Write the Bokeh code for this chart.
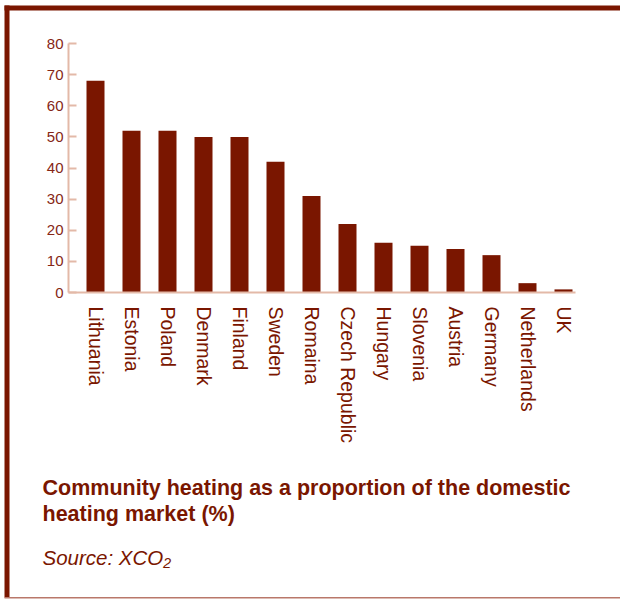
import math
from bokeh.plotting import figure
from bokeh.models import Range1d, FixedTicker, BoxAnnotation, Label
from bokeh.embed import file_html
from bokeh.resources import INLINE

countries = ["Lithuania", "Estonia", "Poland", "Denmark", "Finland", "Sweden",
             "Romaina", "Czech Republic", "Hungary", "Slovenia", "Austria",
             "Germany", "Netherlands", "UK"]
values = [68, 52, 52, 50, 50, 42, 31, 22, 16, 15, 14, 12, 3, 1]
y_ticks = [0, 10, 20, 30, 40, 50, 60, 70, 80]

DARK = "#7a1600"
LIGHT = "#e3b9a8"
FONT = "Liberation Sans"
W, H = 620, 599

xs = list(range(len(countries)))

# frame covers the whole canvas; axes are pinned inside it
PXX = 36.0      # pixels per category
X0 = 95.0       # pixel of first category centre
PXY = 3.1125    # pixels per percent
Y0 = 292.0      # pixel of the zero line (from top)

p = figure(width=W, height=H, output_backend="svg", toolbar_location=None,
           x_range=Range1d(-X0 / PXX, (W - X0) / PXX),
           y_range=Range1d(-(H - Y0) / PXY, Y0 / PXY),
           min_border=0, min_border_left=0, min_border_right=0,
           min_border_top=0, min_border_bottom=0)
p.background_fill_color = "white"
p.border_fill_color = "white"
p.outline_line_color = None
p.grid.visible = False

p.vbar(x=xs, top=values, width=0.5, bottom=0, fill_color=DARK, line_color=None)

x_left = (68 - X0) / PXX
x_right = (575 - X0) / PXX

xa = p.xaxis[0]
xa.fixed_location = 0
xa.bounds = (x_left, x_right)
xa.ticker = FixedTicker(ticks=xs)
xa.major_label_overrides = {i: c for i, c in enumerate(countries)}
xa.major_label_orientation = -math.pi / 2
xa.major_tick_line_color = None
xa.minor_tick_line_color = None
xa.axis_line_color = LIGHT
xa.axis_line_width = 2
xa.major_label_text_font = FONT
xa.major_label_text_font_size = "19.5px"
xa.major_label_text_color = DARK
xa.major_label_standoff = 8

ya = p.yaxis[0]
ya.fixed_location = x_left
ya.bounds = (0, 80)
ya.ticker = FixedTicker(ticks=y_ticks)
ya.major_tick_in = 8
ya.major_tick_out = 0
ya.major_tick_line_color = LIGHT
ya.major_tick_line_width = 2
ya.minor_tick_line_color = None
ya.axis_line_color = LIGHT
ya.axis_line_width = 2
ya.major_label_text_font = FONT
ya.major_label_text_font_size = "15px"
ya.major_label_text_color = "#862615"
ya.major_label_standoff = 5

def box(l, r, t, b, color):
    p.add_layout(BoxAnnotation(left=l, right=r, top=H - t, bottom=H - b,
                               left_units="screen", right_units="screen",
                               top_units="screen", bottom_units="screen",
                               fill_color=color, fill_alpha=1, line_color=None))

box(4, 620, 5, 10, DARK)       # top bar
box(4, 9, 5, 597, DARK)        # left bar
box(4, 620, 596.5, 598, "#b9786a")  # thin bottom rule

def caption(text, baseline_y, style, size):
    p.add_layout(Label(x=42, y=H - baseline_y, x_units="screen", y_units="screen",
                       text=text, text_font=FONT, text_font_style=style,
                       text_font_size=size, text_color=DARK,
                       text_baseline="alphabetic"))

caption("Community heating as a proportion of the domestic", 487, "bold", "21.5px")
caption("heating market (%)", 513, "bold", "21.5px")
caption("Source: XCO\u2082", 557, "italic", "20.5px")

open("out.html", "w").write(file_html(p, INLINE))
